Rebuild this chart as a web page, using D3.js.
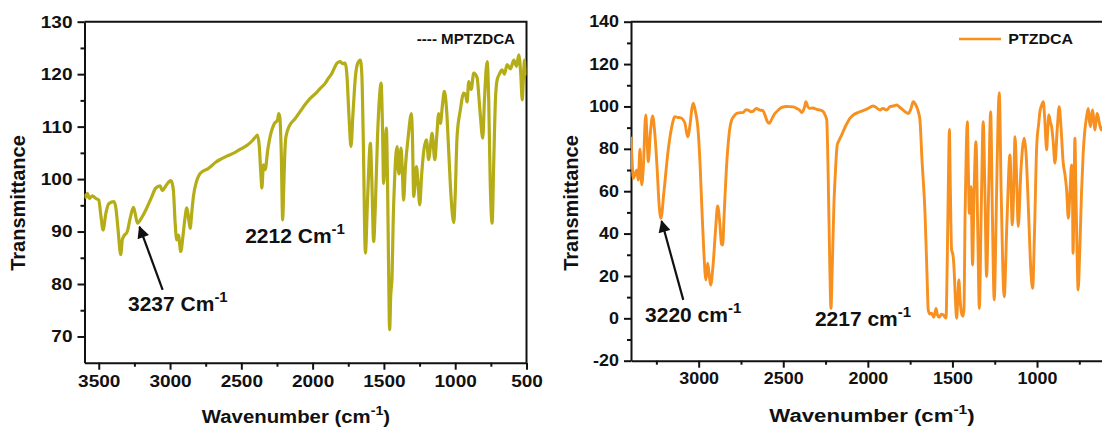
<!DOCTYPE html>
<html>
<head>
<meta charset="utf-8">
<script src="https://cdn.jsdelivr.net/npm/d3@7/dist/d3.min.js"></script>
<style>
body { margin: 0; background: #fff; }
text { font-family: "Liberation Sans", Arial, sans-serif; font-weight: bold; fill: #111; }
</style>
</head>
<body>
<div id="chart"></div>
<script>
// Width and height
var width  = 1102;
var height = 428;

// MPTZDCA spectrum (left panel)
var mptzWave = [3600,3590,3580,3565,3545,3520,3500,3485,3470,3450,3430,3393,3380,3365,3346,3335,3327,3300,3280,3257,3245,3229,3200,3170,3130,3100,3070,3054,3030,2995,2985,2976,2965,2953,2941,2925,2910,2897,2882,2870,2859,2848,2836,2815,2796,2770,2738,2714,2680,2644,2600,2550,2500,2457,2420,2395,2387,2375,2362,2356,2345,2333,2315,2293,2270,2246,2238,2230,2220,2210,2203,2195,2187,2160,2129,2087,2050,2017,1980,1946,1911,1890,1864,1845,1829,1806,1790,1771,1760,1745,1731,1718,1700,1685,1666,1655,1645,1630,1615,1595,1585,1572,1560,1545,1530,1520,1510,1502,1493,1483,1475,1468,1460,1452,1443,1435,1425,1408,1400,1394,1380,1370,1362,1350,1330,1307,1300,1291,1282,1272,1260,1249,1235,1220,1202,1186,1175,1162,1143,1130,1116,1104,1090,1076,1060,1045,1030,1010,1000,987,965,940,925,917,905,888,870,846,835,823,807,795,776,765,755,741,730,718,706,690,671,655,636,612,589,570,554,540,530,522,514,505,500];
var mptzTrans = [97.2,96.5,97.3,96.3,96.8,96.3,96.0,93,90.3,93.5,95.3,95.7,94.5,90.5,85.6,88.4,89.0,90.0,92.5,94.6,93.5,91.6,92.6,94.1,96.5,98.3,98.7,97.8,98.7,99.7,99.2,97.7,92,88.4,89.3,86.2,89,92.2,94.5,92.5,90.6,93.5,96.7,99.5,100.8,101.5,101.9,102.4,103.2,103.8,104.4,105.0,105.8,106.5,107.4,108.2,108.4,106.5,100.5,98.3,102.7,101.8,105.5,108.7,110.5,111.3,112.5,111.8,105,92.2,98,105,108.1,110.3,111.3,112.9,114.3,115.4,116.3,117.3,118.3,119.2,120.2,121.3,122.1,122.4,122.0,122.1,120,112,106.2,112,119.5,122.0,122.7,120,108,85.9,96,106.8,100,88.1,95,108,116,118.3,110,99.2,104,109.7,100,85,71.3,78,81.4,92,100,106.2,102,101,105.9,101,96.0,102,108,112.5,108,96.7,99,102.4,99,95.1,101,105.5,107.5,103.7,106,108.7,103.7,108,112.5,110.6,114,116.7,113,105,97,91.7,97,108.1,113,116.4,115.8,114.7,118.6,117.1,120.2,119.3,116,111.9,107.8,115,122.4,115,100,91.6,103,115,118.9,120,120.8,120.0,121.8,121.0,122.7,121.5,123.7,119.9,115.1,119,122.7,120,121];

// PTZDCA spectrum (right panel)
var ptzWave = [3400,3392,3386,3376,3366,3357,3347,3337,3327,3313,3305,3298,3285,3272,3260,3245,3235,3223,3205,3180,3160,3140,3125,3110,3090,3081,3065,3050,3040,3032,3020,3002,2992,2980,2969,2957,2947,2937,2929,2915,2900,2888,2875,2865,2858,2850,2834,2820,2805,2790,2775,2756,2736,2720,2707,2690,2677,2660,2638,2620,2608,2595,2583,2565,2549,2530,2509,2480,2460,2440,2421,2400,2391,2375,2366,2355,2346,2325,2302,2280,2263,2253,2243,2235,2225,2218,2210,2200,2194,2181,2170,2155,2130,2106,2080,2047,2010,1968,1945,1928,1910,1889,1869,1850,1830,1810,1791,1775,1761,1745,1732,1712,1700,1692,1680,1662,1650,1643,1633,1623,1610,1597,1588,1578,1565,1554,1538,1530,1522,1518,1512,1505,1497,1491,1483,1475,1468,1462,1454,1446,1438,1432,1425,1418,1412,1406,1400,1394,1390,1381,1372,1361,1350,1341,1330,1318,1308,1298,1286,1274,1264,1253,1240,1230,1223,1212,1194,1178,1160,1146,1138,1130,1120,1111,1095,1076,1065,1050,1036,1026,1015,1002,990,983,973,963,955,943,937,930,922,914,905,894,880,869,858,845,835,825,815,805,796,790,787,781,776,770,763,757,748,737,727,717,707,697,690,684,677,671,664,658,651,645,638,631,620,605,590];
var ptzTrans = [85.7,72,66.1,68,70.0,65.3,79.8,63.0,71.6,96.0,85,73.9,88,95.5,88,70,55,47.2,60,79.5,90,95.2,94.8,94.7,93.5,92.0,85.7,92,99,101.5,98,87.3,73.2,50,30.7,18.1,26.0,20,15.7,25,42,53.0,45,35,34.6,48,73.2,87,93.6,95.5,96.7,97.0,97.2,98.5,98.3,97.5,97.8,99.0,98.3,98,95.9,93,92.0,94.5,96.7,98.2,99.6,100,99.9,99.8,99.1,98,97.1,99.5,102.2,100,99.1,99.3,98.6,98.2,97.5,96,93.6,70,25,4.7,25,55,65.3,81.8,84,86.5,91,94.4,96.3,97.5,98.6,100.2,99.2,98.3,99.1,98.3,99.9,100.2,100.7,99.5,98.3,97.2,96.7,99,102.2,99.9,97,93.6,75,49.6,20,4.0,2.0,2.4,0.5,4.7,1.5,0.5,2,1.6,0.1,30,75,89.2,60,32.3,30,24.4,10,0,10,18.1,8,2.4,1,4,50,80,92.8,70,49.6,55,62.1,25.2,60,83.4,40,4.7,50,92.8,60,19.7,60,97.5,50,8.7,55,95,106.5,60,10.2,45,77.1,44.1,60,85.7,65,43.3,70,85.0,78,50,22,14.2,40,81.0,92,97.5,100.5,102.2,95,79.5,88,96.0,93,90.5,84,73.2,90,99.9,90,73.2,68,60.6,47.2,60,72.4,55,30.7,60,85.0,60,30,13.4,30,59.0,78,88.9,95,99.1,93,90.5,96,98.3,93,88.9,93,96.7,95,92,88.9,91,89];

// tick labels
var mptzXTicks = [3500,3000,2500,2000,1500,1000,500];
var mptzXMinor = [3250,2750,2250,1750,1250,750];
var mptzYTicks = [70,80,90,100,110,120,130];
var mptzYMinor = [75,85,95,105,115,125];
var ptzXTicks  = [3000,2500,2000,1500,1000];
var ptzXMinor  = [3250,2750,2250,1750,1250,750];
var ptzYTicks  = [-20,0,20,40,60,80,100,120,140];
var ptzYMinor  = [-10,10,30,50,70,90,110,130];

var svg = d3.select("#chart")
    .append("svg")
    .attr("width", width)
    .attr("height", height);

var defs = svg.append("defs");
defs.append("marker")
    .attr("id", "arrowHead")
    .attr("viewBox", "0 0 10 10")
    .attr("refX", 9).attr("refY", 5)
    .attr("markerWidth", 6.5).attr("markerHeight", 5.5)
    .attr("markerUnits", "strokeWidth")
    .attr("orient", "auto")
  .append("path")
    .attr("d", "M0,0 L10,5 L0,10 z")
    .attr("fill", "#111");

function plainNum(d) { return String(d); }

function drawPanel(p) {
    var x = d3.scaleLinear().domain(p.xDomain).range(p.xRange);
    var y = d3.scaleLinear().domain(p.yDomain).range(p.yRange);
    var g = svg.append("g").attr("class", p.id);

    defs.append("clipPath").attr("id", "clip-" + p.id)
      .append("rect")
        .attr("x", p.xRange[0]).attr("y", p.yRange[1])
        .attr("width", p.xRange[1] - p.xRange[0])
        .attr("height", p.yRange[0] - p.yRange[1]);

    // frame top + right
    g.append("path")
        .attr("d", "M" + p.xRange[0] + "," + p.yRange[1] + "H" + p.xRange[1] + "V" + p.yRange[0])
        .attr("fill", "none").attr("stroke", "#111").attr("stroke-width", 2);

    // minor ticks
    g.append("g")
        .attr("transform", "translate(0," + p.yRange[0] + ")")
        .call(d3.axisBottom(x).tickValues(p.xMinor).tickSize(4).tickFormat(""))
        .call(function(a){ a.select(".domain").remove(); });
    g.append("g")
        .attr("transform", "translate(" + p.xRange[0] + ",0)")
        .call(d3.axisLeft(y).tickValues(p.yMinor).tickSize(4).tickFormat(""))
        .call(function(a){ a.select(".domain").remove(); });

    var xAxis = g.append("g")
        .attr("transform", "translate(0," + p.yRange[0] + ")")
        .call(d3.axisBottom(x).tickValues(p.xTicks).tickSize(7).tickSizeOuter(0).tickPadding(5).tickFormat(plainNum));
    var yAxis = g.append("g")
        .attr("transform", "translate(" + p.xRange[0] + ",0)")
        .call(d3.axisLeft(y).tickValues(p.yTicks).tickSize(7).tickSizeOuter(0).tickPadding(5).tickFormat(plainNum));

    g.selectAll(".tick line, .domain").attr("stroke", "#111").attr("stroke-width", 2);
    xAxis.selectAll("text")
        .attr("font-size", p.tickFont).attr("fill", "#111")
        .attr("transform", "scale(" + p.tickStretch + ",1)");
    yAxis.selectAll("text")
        .attr("font-size", p.tickFont).attr("fill", "#111")
        .attr("x", -12 / p.tickStretch)
        .attr("transform", "scale(" + p.tickStretch + ",1)");

    // spectrum
    var line = d3.line()
        .x(function(d){ return x(d[0]); })
        .y(function(d){ return y(d[1]); })
        .curve(d3.curveMonotoneX);
    g.append("path")
        .datum(d3.zip(p.wave, p.trans))
        .attr("clip-path", "url(#clip-" + p.id + ")")
        .attr("d", line)
        .attr("fill", "none")
        .attr("stroke", p.color)
        .attr("stroke-width", p.lineWidth)
        .attr("stroke-linejoin", "round");

    // axis titles
    g.append("text")
        .attr("transform", "translate(" + p.yTitlePos[0] + "," + p.yTitlePos[1] + ") rotate(-90)")
        .attr("text-anchor", "middle")
        .attr("font-size", 20)
        .text("Transmittance");

    var xt = g.append("text")
        .attr("transform", "translate(" + p.xTitlePos[0] + "," + p.xTitlePos[1] + ") scale(" + p.xTitleStretch + ",1)")
        .attr("text-anchor", "middle")
        .attr("font-size", 18.5);
    xt.append("tspan").text("Wavenumber (cm");
    xt.append("tspan").attr("dy", -8).attr("font-size", 13).text("-1");
    xt.append("tspan").attr("dy", 8).text(")");

    // annotations
    p.notes.forEach(function(n){
        var t = g.append("text")
            .attr("x", x(n.wn)).attr("y", y(n.val))
            .attr("font-size", 21);
        t.append("tspan").text(n.label);
        t.append("tspan").attr("dy", -9).attr("font-size", 15).text("-1");
        if (n.arrow) {
            g.append("line")
                .attr("x1", x(n.arrow[2])).attr("y1", y(n.arrow[3]))
                .attr("x2", x(n.arrow[0])).attr("y2", y(n.arrow[1]))
                .attr("stroke", "#111").attr("stroke-width", 2.2)
                .attr("marker-end", "url(#arrowHead)");
        }
    });

    // legend (anchored at its right end)
    var lg = g.append("g")
        .attr("transform", "translate(" + p.legendPos[0] + "," + p.legendPos[1] + ")");
    if (p.legendDash) {
        lg.append("text").attr("x", 0).attr("y", 0).attr("font-size", 14).attr("text-anchor", "end")
            .attr("transform", "scale(1.08,1)")
            .text("---- " + p.name);
    } else {
        lg.append("line").attr("x1", -114).attr("x2", -72).attr("y1", -5).attr("y2", -5)
            .attr("stroke", p.color).attr("stroke-width", 2.5);
        lg.append("text").attr("x", 0).attr("y", 0).attr("font-size", 14.5).attr("text-anchor", "end")
            .attr("transform", "scale(1.1,1)")
            .text(p.name);
    }
}

drawPanel({
    id: "mptz", name: "MPTZDCA",
    wave: mptzWave, trans: mptzTrans,
    xDomain: [3600, 500], xRange: [84.5, 526.5],
    yDomain: [65, 130],   yRange: [362.7, 21.7],
    xTicks: mptzXTicks, xMinor: mptzXMinor, yTicks: mptzYTicks, yMinor: mptzYMinor,
    color: "#b5ad17", lineWidth: 3.2,
    tickFont: 17, tickStretch: 1.12,
    yTitlePos: [25, 203], xTitlePos: [296, 423], xTitleStretch: 1.1,
    legendPos: [515, 44], legendDash: true,
    notes: [
        {label: "3237 Cm", wn: 3295, val: 74.8, arrow: [3214, 90.9, 3052, 78.9]},
        {label: "2212 Cm", wn: 2473, val: 87.8}
    ]
});

drawPanel({
    id: "ptz", name: "PTZDCA",
    wave: ptzWave, trans: ptzTrans,
    xDomain: [3400, 500], xRange: [631, 1121.6],
    yDomain: [-20, 140],  yRange: [360.7, 21.7],
    xTicks: ptzXTicks, xMinor: ptzXMinor, yTicks: ptzYTicks, yMinor: ptzYMinor,
    color: "#f7901e", lineWidth: 2.9,
    tickFont: 16, tickStretch: 1.12,
    yTitlePos: [578, 203], xTitlePos: [872, 422], xTitleStretch: 1.2,
    legendPos: [1073, 44], legendDash: false,
    notes: [
        {label: "3220 cm", wn: 3317, val: -1.6, arrow: [3219, 45.9, 3091, 8.7]},
        {label: "2217 cm", wn: 2313, val: -3.8}
    ]
});
</script>
</body>
</html>
